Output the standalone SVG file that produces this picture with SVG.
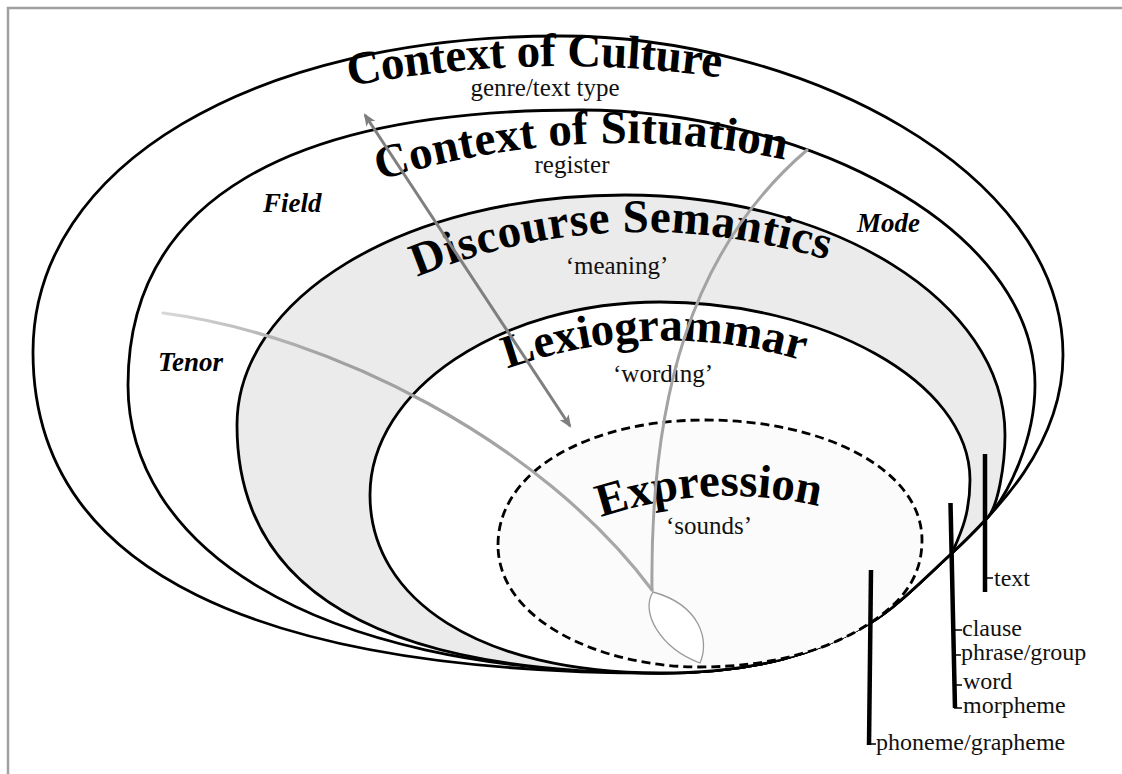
<svg xmlns="http://www.w3.org/2000/svg" width="1122" height="774" viewBox="0 0 1122 774">
<style>
.ring{stroke:#000;stroke-width:2.8;fill:#fff}
.ds{fill:#ebebeb}
.expr{fill:#fbfbfb;stroke-dasharray:9 5}
.title{font-family:"Liberation Serif","Times New Roman",serif;font-weight:bold;font-size:47px;fill:#000}
.sub{font-family:"Liberation Serif","Times New Roman",serif;font-size:25px;fill:#111;text-anchor:middle}
.var{font-family:"Liberation Serif","Times New Roman",serif;font-weight:bold;font-style:italic;font-size:27px;fill:#000}
.unit{font-family:"Liberation Serif","Times New Roman",serif;font-size:24px;fill:#111}
.bar{stroke:#000;stroke-width:4.5;fill:none}
.tick{stroke:#000;stroke-width:1.6;fill:none}
.grey{fill:none;stroke:#a3a3a3;stroke-linecap:round}
</style>
<defs>
<marker id="ah" viewBox="0 0 12 10" refX="10" refY="5" markerWidth="4.2" markerHeight="3.6" orient="auto-start-reverse" markerUnits="strokeWidth">
<path d="M0,0 L12,5 L0,10 L3,5 Z" fill="#7f7f7f"/>
</marker>
<linearGradient id="tg" x1="163" y1="313" x2="652" y2="590" gradientUnits="userSpaceOnUse">
<stop offset="0" stop-color="#d8d8d8"/><stop offset="0.3" stop-color="#a0a0a0"/><stop offset="1" stop-color="#a8a8a8"/>
</linearGradient>
<path id="p-coc" d="M320,92 Q535,46 750,82"/>
<path id="p-cos" d="M365,185 Q582,114 800,163"/>
<path id="p-ds" d="M410,280 Q612,194 835,262"/>
<path id="p-lex" d="M490,375 Q655,311 820,366"/>
<path id="p-exp" d="M590,521 Q710,478 830,509"/>
</defs>
<g id="frame" stroke="#a0a0a0" stroke-width="2.5" fill="none">
<path d="M8,774 L8,8 L1122,8"/>
</g>
<g id="culture">
<path class="ring" d="M33,352 C33,165 255,36 560,36 C800,36 1063,170 1063,355 C1063,445 996,512 952,553 C930,573 896,608 870,623 C820,652 760,673 660,673 C260,673 33,572 33,352 Z"/>
<text class="title"><textPath href="#p-coc" startOffset="50%" text-anchor="middle" letter-spacing="-0.3">Context of Culture</textPath></text>
<text class="sub" x="545" y="96">genre/text type</text>
</g>
<g id="situation">
<path class="ring" d="M128,385 C128,200 290,110 580,110 C800,110 1035,225 1035,385 C1035,440 1008,495 988,517 C975,531 963,543 952,553 C930,573 896,608 870,623 C820,652 760,673 660,673 C300,673 128,540 128,385 Z"/>
<text class="title"><textPath href="#p-cos" startOffset="50%" text-anchor="middle" letter-spacing="0.3">Context of Situation</textPath></text>
<text class="sub" x="572" y="173">register</text>
</g>
<g id="semantics">
<path class="ring ds" d="M237,425 C237,300 400,195 625,195 C830,195 1005,300 1005,435 C1005,465 998,506 988,517 C975,531 963,543 952,553 C930,573 896,608 870,623 C820,652 760,673 660,673 C360,673 237,580 237,425 Z"/>
<text class="title"><textPath href="#p-ds" startOffset="50%" text-anchor="middle" letter-spacing="0.4">Discourse Semantics</textPath></text>
<text class="sub" x="617" y="274">‘meaning’</text>
</g>
<g id="lexiogrammar">
<path class="ring" d="M370,495 C370,390 500,302 660,302 C820,302 970,380 970,480 C970,515 960,535 952,553 C930,573 896,608 870,623 C820,652 760,673 660,673 C480,673 370,600 370,495 Z"/>
<text class="title"><textPath href="#p-lex" startOffset="50%" text-anchor="middle" letter-spacing="-0.2">Lexiogrammar</textPath></text>
<text class="sub" x="663" y="382">‘wording’</text>
</g>
<g id="expression">
<path class="ring expr" d="M498,545 C498,470 590,420 705,420 C825,420 922,470 922,540 C922,575 905,600 870,623 C830,650 770,667 700,667 C600,667 498,620 498,545 Z"/>
<text class="title"><textPath href="#p-exp" startOffset="50%" text-anchor="middle">Expression</textPath></text>
<text class="sub" x="709" y="534">‘sounds’</text>
</g>
<g id="variables">
<text class="var" x="263" y="212">Field</text>
<text class="var" x="158" y="371">Tenor</text>
<text class="var" x="857" y="232">Mode</text>
</g>
<g id="connectors">
<path d="M163,313 C330,335 540,440 652,590" fill="none" stroke="url(#tg)" stroke-width="3.2" stroke-linecap="round"/>
<path class="grey" d="M807,150 C690,250 650,400 652,590" stroke-width="3"/>
<path d="M653,592 C640,612 660,648 700,663 C710,640 700,605 653,592 Z" fill="#fff" stroke="#9a9a9a" stroke-width="1.3"/>
<line x1="365" y1="115" x2="570" y2="426" stroke="#7f7f7f" stroke-width="3" marker-start="url(#ah)" marker-end="url(#ah)"/>
</g>
<g id="ranks">
<path class="bar" d="M985,454 L985,592"/>
<path class="bar" d="M950.5,503 L955,708"/>
<path class="bar" d="M871,570 L869,745"/>
<path class="tick" d="M986,578 L993,578 M955,630 L962,630 M955,655 L961,655 M955,685 L962,685 M954,708 L962,708 M868,744 L876,744"/>
<text class="unit" x="994" y="586">text</text>
<text class="unit" x="962" y="636">clause</text>
<text class="unit" x="961" y="660">phrase/group</text>
<text class="unit" x="963" y="689">word</text>
<text class="unit" x="963" y="713">morpheme</text>
<text class="unit" x="876" y="750">phoneme/grapheme</text>
</g>
</svg>
